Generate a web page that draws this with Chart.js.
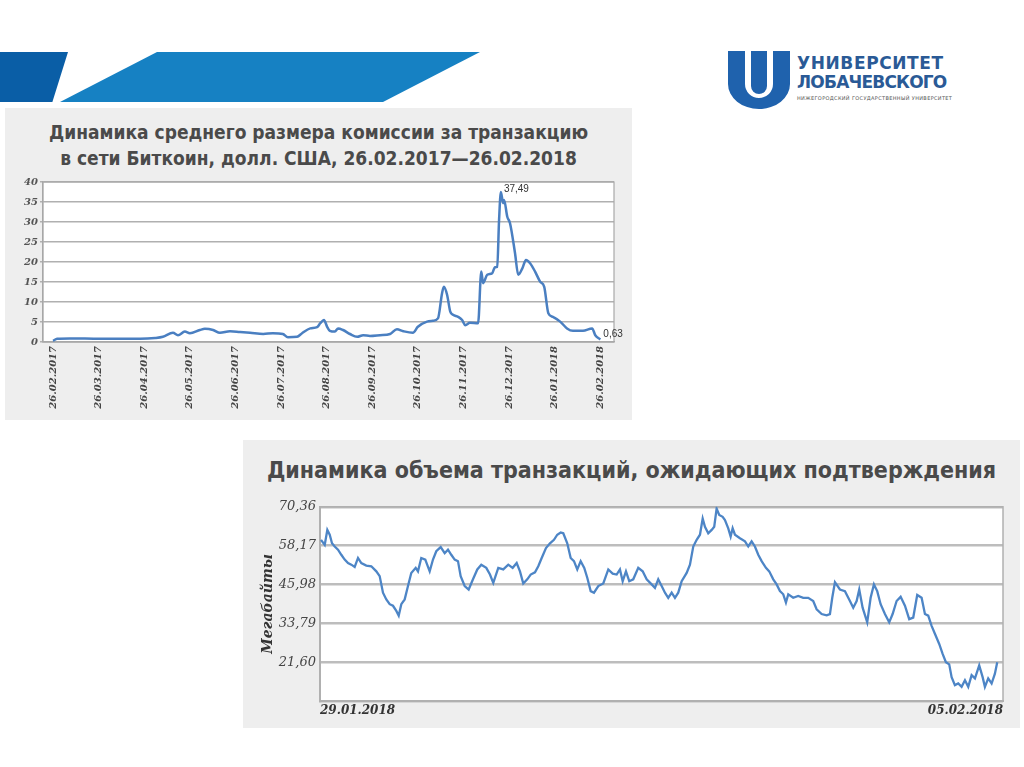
<!DOCTYPE html>
<html lang="ru">
<head>
<meta charset="utf-8">
<title>Биткоин: комиссии и транзакции</title>
<script src="https://cdn.jsdelivr.net/npm/chart.js@4.4.1/dist/chart.umd.min.js"></script>
<style>
  body { margin: 0; width: 1024px; height: 767px; background: #fff; position: relative; overflow: hidden; font-family: "DejaVu Sans", sans-serif; }
  .abs { position: absolute; }
  #bandDark { left: 0; top: 52px; width: 68px; height: 50px; background: #0a5ea6; clip-path: polygon(0 0, 100% 0, 77% 100%, 0 100%); }
  #bandLight { left: 60px; top: 52px; width: 420px; height: 50px; background: #1681c3; clip-path: polygon(23.1% 0, 100% 0, 76.9% 100%, 0 100%); }
  .logoText { left: 797px; color: #2a5a96; font: bold 17px "DejaVu Sans", sans-serif; white-space: nowrap; }
  .logoSmall { left: 797px; top: 95px; color: #555; font: 5px "DejaVu Sans", sans-serif; letter-spacing: 0.35px; white-space: nowrap; }
  .panel { background: #eeeeee; }
  .title { display: flex; flex-direction: column; align-items: center; color: #4a4a4a; font-weight: bold;
           font-family: "DejaVu Sans Condensed", "DejaVu Sans", sans-serif; font-stretch: condensed; white-space: nowrap; }
  .holder { position: absolute; }
</style>
</head>
<body>
<div id="bandDark" class="abs"></div>
<div id="bandLight" class="abs"></div>

<svg class="abs" style="left:0;top:0" width="1024" height="130">
  <path d="M728,51 H745 V84 A14,14 0 0 0 773,84 V51 H790 V84 A31,25 0 0 1 728,84 Z" fill="#1f62ad"/>
  <path d="M751,51 H767 V86 A8,8 0 0 1 751,86 Z" fill="#1f62ad"/>
</svg>
<div class="abs logoText" style="top:53px;letter-spacing:0.6px">УНИВЕРСИТЕТ</div>
<div class="abs logoText" style="top:72px;letter-spacing:-0.8px">ЛОБАЧЕВСКОГО</div>
<div class="abs logoSmall">НИЖЕГОРОДСКИЙ ГОСУДАРСТВЕННЫЙ УНИВЕРСИТЕТ</div>

<div class="abs panel" style="left:5px;top:108px;width:627px;height:312px"></div>
<div class="abs title" style="left:5px;top:119px;width:627px;font-size:19px;line-height:26px">
  <div>Динамика среднего размера комиссии за транзакцию</div>
  <div>в сети Биткоин, долл. США, 26.02.2017—26.02.2018</div>
</div>
<div class="holder" style="left:5px;top:170px;width:627px;height:250px"><canvas id="fees"></canvas></div>

<div class="abs panel" style="left:243px;top:440px;width:777px;height:288px"></div>
<div class="abs title" style="left:243px;top:455px;width:777px;font-size:23px;line-height:30px">
  <div>Динамика объема транзакций, ожидающих подтверждения</div>
</div>
<div class="holder" style="left:243px;top:495px;width:777px;height:233px"><canvas id="mempool"></canvas></div>

<script>
// chart 1: average fee per transaction, USD (x = months since 26.02.2017)
const feeMonthLabels = ['26.02.2017', '26.03.2017', '26.04.2017', '26.05.2017', '26.06.2017', '26.07.2017',
  '26.08.2017', '26.09.2017', '26.10.2017', '26.11.2017', '26.12.2017', '26.01.2018', '26.02.2018'];
const feeX = [0.00, 0.09, 0.37, 1.03, 1.91, 2.24, 2.41, 2.63, 2.74, 2.89, 3.00, 3.22, 3.33, 3.51, 3.66, 3.88,
  4.10, 4.32, 4.61, 4.82, 5.04, 5.15, 5.35, 5.46, 5.64, 5.79, 5.86, 5.94, 6.01, 6.07, 6.18, 6.25, 6.36, 6.51,
  6.67, 6.80, 6.95, 7.17, 7.39, 7.54, 7.68, 7.89, 8.00, 8.20, 8.33, 8.44, 8.53, 8.57, 8.64, 8.71, 8.77, 8.88,
  8.97, 9.04, 9.14, 9.32, 9.39, 9.43, 9.52, 9.63, 9.69, 9.74, 9.78, 9.82, 9.87, 9.89, 9.96, 10.02, 10.13,
  10.20, 10.29, 10.37, 10.46, 10.57, 10.68, 10.77, 10.86, 10.96, 11.12, 11.27, 11.40, 11.62, 11.82, 11.89, 12.00];
const feeY = [0.3, 0.8, 0.9, 0.8, 0.8, 1.0, 1.3, 2.3, 1.7, 2.6, 2.2, 3.0, 3.3, 3.0, 2.3, 2.7,
  2.5, 2.3, 2.0, 2.2, 2.0, 1.2, 1.3, 2.2, 3.4, 3.7, 4.7, 5.5, 3.8, 2.8, 2.6, 3.4, 3.0, 2.0,
  1.3, 1.7, 1.5, 1.7, 2.0, 3.2, 2.7, 2.3, 3.8, 5.1, 5.3, 5.9, 12.2, 13.8, 11.8, 7.6, 6.8, 6.3,
  5.5, 4.2, 4.8, 4.7, 17.6, 14.7, 16.8, 17.2, 18.7, 18.8, 30.5, 37.49, 34.7, 35.5, 31.3, 29.7, 22.2,
  16.8, 18.4, 20.5, 19.7, 17.6, 15.1, 13.8, 7.2, 6.3, 5.1, 3.4, 2.8, 2.8, 3.4, 1.7, 0.63];
const feeTicks = [0, 5, 10, 15, 20, 25, 30, 35, 40];

// chart 2: unconfirmed transactions, MB (x = hours since 29.01.2018)
const mempoolX = [0.25, 1.16, 1.80, 2.39, 2.95, 3.62, 4.43, 5.24, 6.07, 6.89, 7.70, 8.53, 9.35, 10.16, 11.39,
  12.62, 13.85, 14.68, 15.49, 16.31, 17.14, 17.95, 18.77, 19.36, 20.00, 20.83, 21.64, 22.45, 23.54, 24.10,
  24.91, 25.90, 26.98, 27.79, 28.60, 29.69, 30.67, 31.48, 32.29, 33.13, 33.94, 34.60, 35.59, 36.57, 37.63,
  38.69, 39.67, 40.90, 41.81, 42.62, 43.85, 45.08, 46.31, 47.39, 48.38, 49.19, 50.00, 50.98, 51.82, 52.88,
  53.69, 54.53, 55.58, 56.57, 57.55, 58.36, 59.20, 59.84, 60.82, 61.66, 62.47, 63.28, 64.12, 65.00, 65.74,
  66.58, 67.39, 68.45, 69.68, 70.91, 71.99, 72.97, 73.78, 74.45, 75.26, 76.07, 77.05, 78.28, 79.37, 80.35,
  81.58, 82.39, 83.20, 84.04, 84.85, 85.66, 86.50, 87.31, 88.12, 88.96, 90.19, 91.00, 91.81, 92.65, 93.46,
  94.13, 94.69, 95.50, 96.34, 96.97, 97.56, 98.20, 99.04, 99.61, 100.42, 101.01, 101.50, 102.07, 103.30,
  104.53, 105.34, 106.17, 106.98, 107.80, 108.63, 109.69, 110.50, 111.49, 112.32, 113.13, 113.95, 114.61,
  115.18, 116.40, 117.63, 118.86, 120.09, 121.32, 122.16, 123.39, 124.62, 125.43, 126.00, 126.66, 127.89,
  129.12, 130.35, 131.16, 132.00, 132.64, 133.47, 134.60, 135.44, 136.25, 137.06, 137.90, 138.96, 140.01,
  140.85, 141.83, 142.82, 143.88, 144.93, 145.92, 146.90, 147.98, 148.80, 149.61, 150.44, 151.25, 152.31,
  153.15, 153.96, 154.77, 155.36, 156.17, 156.99, 157.82, 158.64, 159.45, 160.28, 161.10, 162.15, 162.99,
  163.55, 164.36, 165.20, 166.01, 166.58];
const mempoolY = [60.0, 58.4, 63.1, 61.6, 58.9, 57.9, 56.9, 55.3, 53.8, 52.7, 52.2, 51.5, 54.3, 52.7, 51.9,
  51.7, 50.1, 48.6, 43.4, 41.3, 39.8, 39.3, 37.7, 36.2, 39.8, 41.3, 45.5, 49.6, 51.2, 50.1,
  54.3, 53.8, 50.1, 53.8, 56.4, 57.7, 55.8, 56.9, 55.3, 53.8, 53.3, 48.6, 45.5, 44.4, 47.6,
  50.7, 52.2, 51.2, 49.1, 46.5, 51.2, 50.7, 52.2, 51.2, 52.7, 50.1, 46.3, 47.6, 49.1, 49.8,
  51.7, 54.3, 57.4, 58.9, 60.0, 61.6, 62.3, 62.05, 58.9, 54.3, 53.3, 50.7, 53.3, 51.2, 48.1,
  43.9, 43.4, 45.5, 46.3, 50.7, 49.4, 49.1, 50.7, 47.0, 50.1, 47.0, 47.6, 51.2, 50.1, 47.6,
  46.0, 44.9, 47.6, 45.5, 43.4, 41.8, 43.4, 41.8, 43.4, 47.0, 49.6, 52.2, 57.9, 60.0, 61.6,
  66.7, 64.1, 62.05, 63.1, 64.1, 69.8, 67.8, 67.2, 66.2, 63.6, 61.0, 63.6, 61.6, 60.5,
  59.5, 57.9, 59.5, 57.9, 55.3, 53.3, 51.2, 50.1, 47.6, 46.0, 43.9, 42.9, 40.3,
  42.9, 41.8, 42.4, 41.8, 41.8, 40.8, 38.2, 36.7, 36.3, 36.7, 41.8, 46.7, 44.4,
  43.9, 40.8, 38.7, 40.8, 44.4, 38.7, 34.1, 41.8, 46.0, 43.9, 39.8, 36.7, 34.1,
  36.7, 40.8, 42.1, 39.3, 35.1, 35.6, 42.7, 41.8, 36.7, 36.2, 33.0, 30.5, 27.3,
  24.2, 21.6, 20.9, 16.9, 14.4, 14.9, 13.85, 15.9, 13.85, 17.5, 16.5, 20.6, 16.9,
  13.85, 16.5, 14.9, 18.0, 21.6];
const mempoolTicks = [9.41, 21.60, 33.79, 45.98, 58.17, 70.36];
const mempoolDateLabels = ['29.01.2018', '05.02.2018'];

const comma = v => v.toFixed(2).replace('.', ',');

// white plot area and a frame round it
const frame = {
  id: 'frame',
  beforeDraw(chart) {
    const { ctx, chartArea: a } = chart;
    ctx.save();
    ctx.fillStyle = '#fff';
    ctx.fillRect(a.left, a.top, a.right - a.left, a.bottom - a.top);
    ctx.restore();
  },
  beforeDatasetsDraw(chart, args, opts) {
    const { ctx, chartArea: a } = chart;
    ctx.save();
    ctx.strokeStyle = opts.color;
    ctx.lineWidth = opts.width;
    ctx.strokeRect(a.left, a.top, a.right - a.left, a.bottom - a.top);
    ctx.restore();
  }
};

// value labels at the peak and at the last point
const peakLabels = {
  id: 'peakLabels',
  afterDatasetsDraw(chart) {
    const ctx = chart.ctx;
    const pts = chart.getDatasetMeta(0).data;
    const ys = chart.data.datasets[0].data.map(p => p.y);
    const iMax = ys.indexOf(Math.max(...ys));
    const iLast = ys.length - 1;
    ctx.save();
    ctx.font = '10px "Liberation Sans", Arial, sans-serif';
    ctx.fillStyle = '#333';
    ctx.textBaseline = 'middle';
    ctx.fillText(comma(ys[iMax]), pts[iMax].x + 3, pts[iMax].y - 3);
    ctx.fillText(comma(ys[iLast]), pts[iLast].x + 3, pts[iLast].y - 5);
    ctx.restore();
  }
};

new Chart(document.getElementById('fees'), {
  type: 'line',
  data: {
    datasets: [{
      data: feeX.map((x, i) => ({ x: x, y: feeY[i] })),
      borderColor: '#4a7fc1',
      borderWidth: 2.5,
      pointRadius: 0,
      cubicInterpolationMode: 'monotone',
      fill: false
    }]
  },
  options: {
    responsive: true,
    maintainAspectRatio: false,
    animation: false,
    layout: { padding: { top: 12, right: 18, left: 0, bottom: 0 } },
    plugins: {
      legend: { display: false },
      tooltip: { enabled: false },
      frame: { color: '#a8a8a8', width: 1.2 }
    },
    scales: {
      x: {
        type: 'linear',
        min: -0.22,
        max: 12.3,
        afterBuildTicks: s => { s.ticks = feeMonthLabels.map((_, i) => ({ value: i })); },
        afterFit: s => { s.height = 78; },
        grid: { display: false, drawTicks: false },
        border: { display: true, color: '#a8a8a8', width: 1.2 },
        ticks: {
          autoSkip: false,
          minRotation: 90,
          maxRotation: 90,
          padding: 4,
          color: '#444',
          font: { family: 'DejaVu Serif', size: 10, style: 'italic', weight: 'bold' },
          callback: v => feeMonthLabels[v]
        }
      },
      y: {
        min: 0,
        max: 40,
        afterBuildTicks: s => { s.ticks = feeTicks.map(v => ({ value: v })); },
        afterFit: s => { s.width = 38; },
        grid: { color: '#b0b0b0', lineWidth: 1.5, tickLength: 3 },
        border: { display: true, color: '#a8a8a8', width: 1.2 },
        ticks: {
          padding: 2,
          color: '#555',
          font: { family: 'DejaVu Serif', size: 10, style: 'italic', weight: 'bold' }
        }
      }
    }
  },
  plugins: [frame, peakLabels]
});

new Chart(document.getElementById('mempool'), {
  type: 'line',
  data: {
    datasets: [{
      data: mempoolX.map((x, i) => ({ x: x, y: mempoolY[i] })),
      borderColor: '#4d85c6',
      borderWidth: 2.3,
      pointRadius: 0,
      tension: 0,
      fill: false
    }]
  },
  options: {
    responsive: true,
    maintainAspectRatio: false,
    animation: false,
    layout: { padding: { top: 10, right: 17, left: 0, bottom: 0 } },
    plugins: {
      legend: { display: false },
      tooltip: { enabled: false },
      frame: { color: '#b0b0b0', width: 1.5 }
    },
    scales: {
      x: {
        type: 'linear',
        min: 0,
        max: 168,
        afterBuildTicks: s => { s.ticks = [{ value: 0 }, { value: 168 }]; },
        afterFit: s => { s.height = 27; },
        grid: { display: false, drawTicks: false },
        border: { display: true, color: '#b0b0b0', width: 2 },
        ticks: {
          align: 'inner',
          maxRotation: 0,
          padding: 3,
          color: '#333',
          font: { family: 'DejaVu Serif', size: 12, style: 'italic', weight: 'bold' },
          callback: (v, i) => mempoolDateLabels[i]
        }
      },
      y: {
        min: 9.41,
        max: 70.36,
        afterBuildTicks: s => { s.ticks = mempoolTicks.map(v => ({ value: v })); },
        afterFit: s => { s.width = 77; },
        grid: { color: '#bdbdbd', lineWidth: 2.5, drawTicks: false },
        border: { display: true, color: '#b0b0b0', width: 2 },
        title: {
          display: true,
          text: 'Мегабайты',
          color: '#333',
          padding: { top: 17, bottom: 0 },
          font: { family: 'DejaVu Serif', size: 14, style: 'italic', weight: 'bold' }
        },
        ticks: {
          padding: 4,
          color: '#444',
          font: { family: 'DejaVu Serif', size: 13, style: 'italic' },
          callback: v => (v === mempoolTicks[0] ? '' : comma(v))
        }
      }
    }
  },
  plugins: [frame]
});
</script>
</body>
</html>
